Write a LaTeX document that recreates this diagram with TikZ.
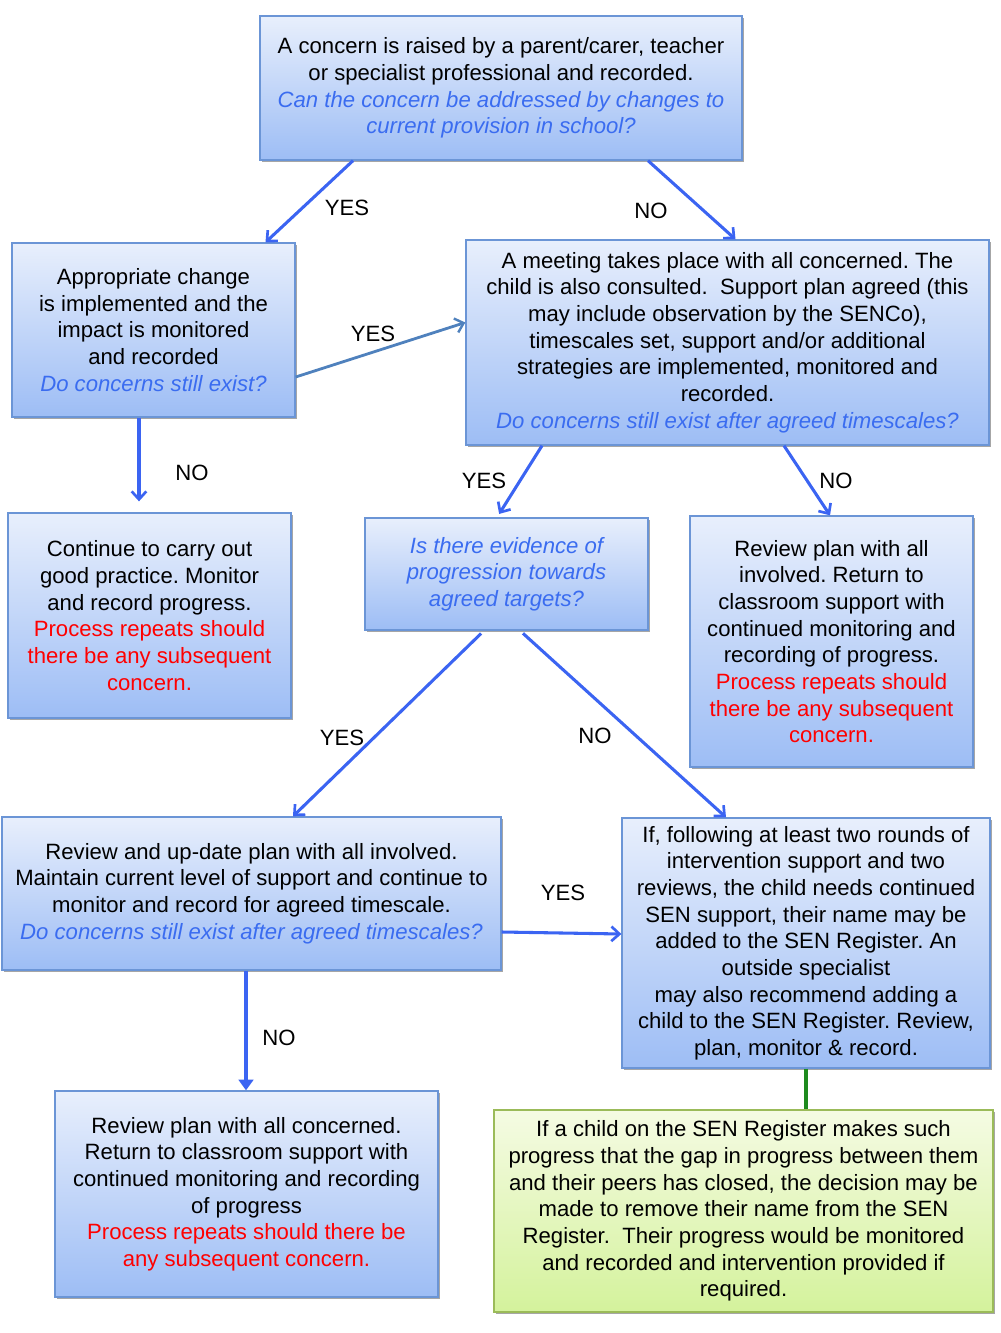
\documentclass[tikz,border=0pt]{standalone}
\usepackage{fontspec}
\setmainfont{Liberation Sans}
\usepackage{xcolor}
\usetikzlibrary{arrows.meta,shadows}
\definecolor{boxtop}{HTML}{E8EFFC}
\definecolor{boxbot}{HTML}{9DBDF5}
\definecolor{boxline}{HTML}{6B95D6}
\definecolor{greentop}{HTML}{F5FBE3}
\definecolor{greenbot}{HTML}{D4F29C}
\definecolor{greenline}{HTML}{9BBB59}
\definecolor{askblue}{HTML}{3A6CF0}
\definecolor{arrowblue}{HTML}{3B64F2}
\definecolor{steelblue}{HTML}{4F81BD}
\definecolor{linkgreen}{HTML}{1E8A1E}
\newlength\pxu
\setlength\pxu{0.75pt}
\newcommand{\ask}[1]{{\color{askblue}\itshape #1}}
\newcommand{\rep}[1]{{\color{red}#1}}
\frenchspacing

\begin{document}
\begin{tikzpicture}[x=0.75pt,y=-0.75pt,
    box/.style={draw=boxline,line width=1pt,top color=boxtop,bottom color=boxbot,
      drop shadow={shadow xshift=1.6pt,shadow yshift=-1.6pt,fill=black,opacity=0.35},
      align=center,inner sep=0pt,font=\fontsize{16.6}{20}\selectfont},
    greenbox/.style={box,draw=greenline,top color=greentop,bottom color=greenbot},
    lbl/.style={font=\fontsize{16.6}{20}\selectfont,inner sep=0pt},
    go/.style={draw=arrowblue,line width=2.3pt,-{Straight Barb[length=6pt,width=11pt,line width=2pt]}},
    goside/.style={draw=steelblue,line width=2.1pt,-{Straight Barb[length=6pt,width=11pt,line width=1.8pt]}}]
  \useasboundingbox (0,0) rectangle (1000,1333);
  % The boxes
  \node[box,minimum width=482\pxu,minimum height=144\pxu] (raise) at (501,88)
    {A concern is raised by a parent/carer, teacher\\
     or specialist professional and recorded.\\
     \ask{Can the concern be addressed by changes to}\\
     \ask{current provision in school?}};
  \node[box,minimum width=283\pxu,minimum height=174\pxu] (change) at (153.5,330)
    {Appropriate change\\
     is implemented and the\\
     impact is monitored\\
     and recorded\\
     \ask{Do concerns still exist?}};
  \node[box,minimum width=523\pxu,minimum height=205\pxu] (meeting) at (727.5,342.5)
    {A meeting takes place with all concerned. The\\
     child is also consulted.\ \ Support plan agreed (this\\
     may include observation by the SENCo),\\
     timescales set, support and/or additional\\
     strategies are implemented, monitored and\\
     recorded.\\
     \ask{Do concerns still exist after agreed timescales?}};
  \node[box,minimum width=283\pxu,minimum height=205\pxu] (carryon) at (149.5,615.5)
    {Continue to carry out\\
     good practice. Monitor\\
     and record progress.\\
     \rep{Process repeats should}\\
     \rep{there be any subsequent}\\
     \rep{concern.}};
  \node[box,minimum width=283\pxu,minimum height=112\pxu] (evidence) at (506.5,574)
    {\ask{Is there evidence of}\\
     \ask{progression towards}\\
     \ask{agreed targets?}};
  \node[box,minimum width=283\pxu,minimum height=251\pxu] (reviewright) at (831.5,641.5)
    {Review plan with all\\
     involved. Return to\\
     classroom support with\\
     continued monitoring and\\
     recording of progress.\\
     \rep{Process repeats should}\\
     \rep{there be any subsequent}\\
     \rep{concern.}};
  \node[box,minimum width=499\pxu,minimum height=153\pxu] (update) at (251.5,893.5)
    {Review and up-date plan with all involved.\\
     Maintain current level of support and continue to\\
     monitor and record for agreed timescale.\\
     \ask{Do concerns still exist after agreed timescales?}};
  \node[box,minimum width=368\pxu,minimum height=250\pxu] (register) at (806,943)
    {If, following at least two rounds of\\
     intervention support and two\\
     reviews, the child needs continued\\
     SEN support, their name may be\\
     added to the SEN Register. An\\
     outside specialist\\
     may also recommend adding a\\
     child to the SEN Register. Review,\\
     plan, monitor \& record.};
  \node[box,minimum width=383\pxu,minimum height=206\pxu] (reviewleft) at (246.5,1194)
    {Review plan with all concerned.\\
     Return to classroom support with\\
     continued monitoring and recording\\
     of progress\\
     \rep{Process repeats should there be}\\
     \rep{any subsequent concern.}};
  \node[greenbox,minimum width=499\pxu,minimum height=202\pxu] (remove) at (743.5,1211)
    {If a child on the SEN Register makes such\\
     progress that the gap in progress between them\\
     and their peers has closed, the decision may be\\
     made to remove their name from the SEN\\
     Register.\ \ Their progress would be monitored\\
     and recorded and intervention provided if\\
     required.};
  % The arrows
  \draw[go] ([xshift=-148\pxu]raise.south) -- ([xshift=112\pxu]change.north);
  \draw[go] ([xshift=147\pxu]raise.south) -- ([xshift=8\pxu]meeting.north);
  \draw[goside] ([yshift=-47\pxu]change.east) -- ([yshift=20\pxu]meeting.west);
  \draw[go,shorten >=11\pxu] ([xshift=-14.5\pxu]change.south) -- ([xshift=-10.5\pxu]carryon.north);
  \draw[go,shorten >=4\pxu] ([xshift=-185.5\pxu]meeting.south) -- ([xshift=-9.5\pxu]evidence.north);
  \draw[go] ([xshift=56.5\pxu]meeting.south) -- ([xshift=-1.5\pxu]reviewright.north);
  \draw[go,shorten <=4\pxu] ([xshift=-22.5\pxu]evidence.south) -- ([xshift=41.5\pxu]update.north);
  \draw[go,shorten <=4\pxu] ([xshift=13.5\pxu]evidence.south) -- ([xshift=-80\pxu]register.north);
  \draw[go] ([yshift=-38.5\pxu]update.east) -- ([yshift=9\pxu]register.west);
  \draw[go,-{Triangle[length=8pt,width=11pt]}] ([xshift=-5.5\pxu]update.south) -- ([xshift=-0.5\pxu]reviewleft.north);
  \draw[draw=linkgreen,line width=2.4pt] (register.south) -- (register.south |- remove.north);
  % The labels
  \node[lbl] (yes1) at (347,208) {YES};
  \node[lbl] (no1) at (651,211) {NO};
  \node[lbl] (yes2) at (373,334) {YES};
  \node[lbl] (no2) at (192,473) {NO};
  \node[lbl] (yes3) at (484,481) {YES};
  \node[lbl] (no3) at (836,481) {NO};
  \node[lbl] (yes4) at (342,738) {YES};
  \node[lbl] (no4) at (595,736) {NO};
  \node[lbl] (yes5) at (563,893) {YES};
  \node[lbl] (no5) at (279,1038) {NO};
\end{tikzpicture}
\end{document}
